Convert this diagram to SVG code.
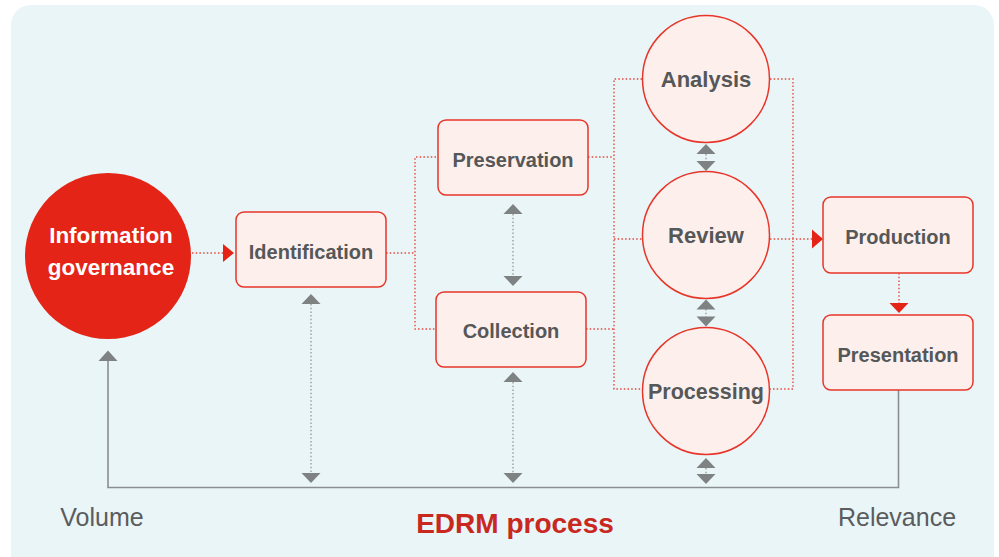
<svg xmlns="http://www.w3.org/2000/svg" width="999" height="557" viewBox="0 0 999 557">
<style>
.box{fill:#FDF0EC;stroke:#E8352A;stroke-width:1.5}
.lbl{font-family:"Liberation Sans",Arial,sans-serif;font-weight:bold;fill:#555758;text-anchor:middle}
.rdot{fill:none;stroke:#E8463C;stroke-width:1.4;stroke-dasharray:1.5 2.2}
.gdot{fill:none;stroke:#9A9D9E;stroke-width:1.4;stroke-dasharray:1.5 2.2}
.gtri{fill:#7E8283}
.rtri{fill:#E32416}
.axis{font-family:"Liberation Sans",Arial,sans-serif;font-size:25px;fill:#5A5C5D;text-anchor:middle}
</style>
<defs>
<polygon id="up" points="-9.5,5 0,-5 9.5,5"/>
<polygon id="down" points="-9.5,-5 0,5 9.5,-5"/>
</defs>
<rect x="11" y="5" width="983" height="580" rx="20" fill="#EAF5F8"/>
<g id="connectors">
<line class="rdot" x1="192" y1="253" x2="224" y2="253"/>
<polygon class="rtri" points="223,244 234,253 223,262"/>
<line class="rdot" x1="386" y1="253" x2="415" y2="253"/>
<polyline class="rdot" points="436,157 415,157 415,329 435,329"/>
<line class="rdot" x1="588" y1="157" x2="614" y2="157"/>
<line class="rdot" x1="586" y1="329" x2="614" y2="329"/>
<polyline class="rdot" points="642,79 614,79 614,389 643,389"/>
<line class="rdot" x1="614" y1="239" x2="642" y2="239"/>
<polyline class="rdot" points="770,79 793,79 793,389 770,389"/>
<line class="rdot" x1="770" y1="239" x2="813" y2="239"/>
<polygon class="rtri" points="812,229.5 823,239 812,248.5"/>
<line class="rdot" x1="899" y1="273" x2="899" y2="304"/>
<polygon class="rtri" points="889.5,303 899,313 908.5,303"/>
<line class="gdot" x1="311" y1="304" x2="311" y2="473"/>
<use href="#up" class="gtri" x="311" y="299"/>
<use href="#down" class="gtri" x="311" y="478"/>
<line class="gdot" x1="513" y1="214" x2="513" y2="276"/>
<use href="#up" class="gtri" x="513" y="209"/>
<use href="#down" class="gtri" x="513" y="281"/>
<line class="gdot" x1="513" y1="382" x2="513" y2="473"/>
<use href="#up" class="gtri" x="513" y="377"/>
<use href="#down" class="gtri" x="513" y="478"/>
<line class="gdot" x1="706" y1="154" x2="706" y2="161"/>
<use href="#up" class="gtri" x="706" y="149"/>
<use href="#down" class="gtri" x="706" y="166"/>
<line class="gdot" x1="706" y1="309" x2="706" y2="317"/>
<use href="#up" class="gtri" x="706" y="304.5"/>
<use href="#down" class="gtri" x="706" y="321.5"/>
<line class="gdot" x1="706" y1="468" x2="706" y2="474"/>
<use href="#up" class="gtri" x="706" y="463"/>
<use href="#down" class="gtri" x="706" y="479"/>
<polyline fill="none" stroke="#8A8E8F" stroke-width="1.6" points="108,360 108,487.5 898.5,487.5 898.5,390"/>
<polygon class="gtri" points="98.5,361 108,350.5 117.5,361"/>
</g>
<g id="information-governance">
<circle cx="108" cy="256" r="83" fill="#E32416"/>
<text class="lbl" x="111" y="243" font-size="22.5" style="fill:#ffffff">Information</text>
<text class="lbl" x="111" y="275" font-size="22.5" style="fill:#ffffff">governance</text>
</g>
<g id="identification">
<rect class="box" x="236" y="212" width="150" height="75" rx="8"/>
<text class="lbl" x="311" y="259" font-size="20">Identification</text>
</g>
<g id="preservation">
<rect class="box" x="438" y="120" width="150" height="75" rx="8"/>
<text class="lbl" x="513" y="167" font-size="20">Preservation</text>
</g>
<g id="collection">
<rect class="box" x="436" y="292" width="150" height="75" rx="8"/>
<text class="lbl" x="511" y="338" font-size="20">Collection</text>
</g>
<g id="analysis">
<circle class="box" cx="706" cy="79" r="63.5"/>
<text class="lbl" x="706" y="87" font-size="22">Analysis</text>
</g>
<g id="review">
<circle class="box" cx="706" cy="235" r="63.5"/>
<text class="lbl" x="706" y="243" font-size="22">Review</text>
</g>
<g id="processing">
<circle class="box" cx="706" cy="391" r="63.5"/>
<text class="lbl" x="706" y="399" font-size="21.5">Processing</text>
</g>
<g id="production">
<rect class="box" x="823" y="197" width="150" height="76" rx="8"/>
<text class="lbl" x="898" y="244" font-size="20">Production</text>
</g>
<g id="presentation">
<rect class="box" x="823" y="315" width="150" height="75" rx="8"/>
<text class="lbl" x="898" y="362" font-size="20">Presentation</text>
</g>
<text class="axis" x="102" y="526">Volume</text>
<text class="axis" x="897" y="526">Relevance</text>
<text x="515" y="533" font-family="Liberation Sans, Arial, sans-serif" font-weight="bold" font-size="28" fill="#C8281E" text-anchor="middle">EDRM process</text>
</svg>
